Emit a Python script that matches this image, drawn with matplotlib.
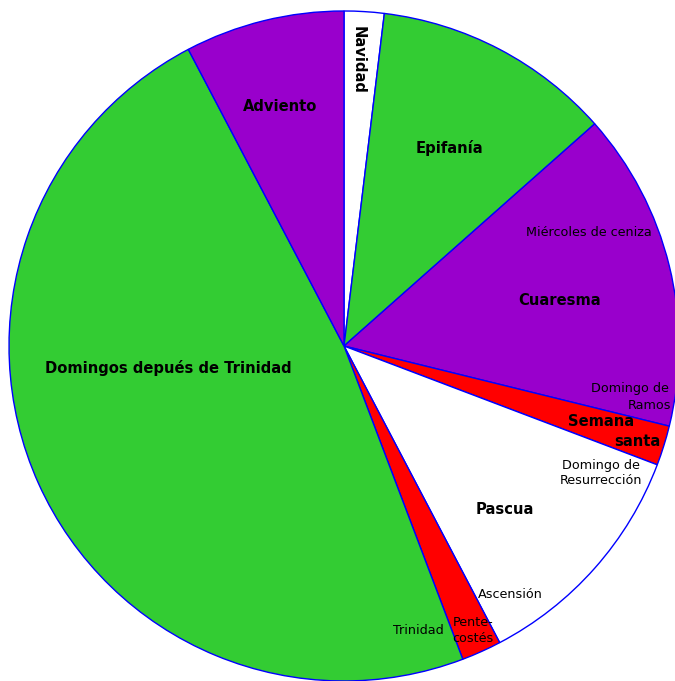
import matplotlib
matplotlib.use("Agg")
import matplotlib.pyplot as plt

# liturgical year, in weeks, clockwise from the top
seasons = ["Navidad", "Epifanía", "Cuaresma", "Semana santa", "Pascua",
           "Pentecostés", "Domingos depués de Trinidad", "Adviento"]
weeks = [1, 6, 8, 1, 6, 1, 25, 4]
colors = ["#ffffff", "#33cc33", "#9900cc", "#ff0000", "#ffffff",
          "#ff0000", "#33cc33", "#9900cc"]

W, H = 675, 681
CX, CY, R = 344, 346, 335


def px(x, y):
    """pixel position -> data coords of the pie"""
    return (x - CX) / R, (CY - y) / R


fig = plt.figure(figsize=(W / 100, H / 100), dpi=100)
ax = fig.add_axes([0, 0, 1, 1])
ax.pie(weeks, colors=colors, startangle=90, counterclock=False,
       wedgeprops=dict(edgecolor="#0000ff", linewidth=1.0, antialiased=True))
ax.set_xlim(-CX / R, (W - CX) / R)
ax.set_ylim(-(H - CY) / R, CY / R)
ax.set_aspect("equal")
ax.axis("off")

big = dict(fontsize=10.6, fontweight="bold", family="DejaVu Sans",
           ha="center", va="center")
small = dict(fontsize=9.2, family="DejaVu Sans", ha="center", va="center")

ax.text(*px(358, 60), "Navidad", rotation=-90, **big)
ax.text(*px(280, 106), "Adviento", **big)
ax.text(*px(449, 148), "Epifanía", **big)
ax.text(*px(560, 300), "Cuaresma", **big)
ax.text(*px(601, 421), "Semana", **big)
ax.text(*px(637, 441), "santa", **big)
ax.text(*px(505, 510), "Pascua", **big)
ax.text(*px(168, 368), "Domingos depués de Trinidad", **big)

ax.text(*px(589, 232), "Miércoles de ceniza", **small)
ax.text(*px(630, 388), "Domingo de", **small)
ax.text(*px(671, 405), "Ramos", **dict(small, ha="right"))
ax.text(*px(601, 465), "Domingo de", **small)
ax.text(*px(601, 481), "Resurrección", **small)
ax.text(*px(510, 595), "Ascensión", **small)
ax.text(*px(418, 630), "Trinidad", **small)
ax.text(*px(453, 622), "Pente-", **dict(small, ha="left"))
ax.text(*px(452, 639), "costés", **dict(small, ha="left"))

fig.savefig("out.png", dpi=100, facecolor="white")
